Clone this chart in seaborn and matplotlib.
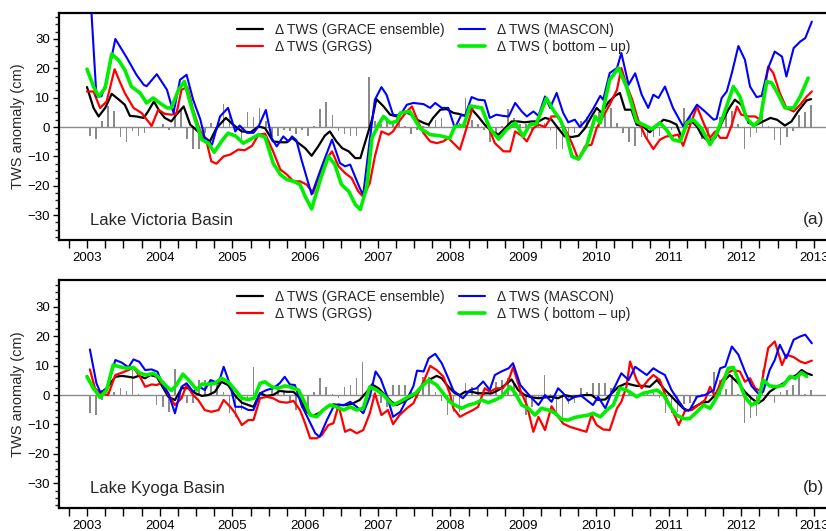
import numpy as np
import pandas as pd
import matplotlib
matplotlib.use("Agg")
import matplotlib.pyplot as plt
from matplotlib.ticker import MultipleLocator
import seaborn as sns

# ---------------- data ----------------
years = [2003, 2004, 2005, 2006, 2007, 2008, 2009, 2010, 2011, 2012, 2013]
series_labels = ["\u0394 TWS (GRACE ensemble)", "\u0394 TWS (GRGS)",
                 "\u0394 TWS (MASCON)", "\u0394 TWS ( bottom \u2013 up)"]
panel_names = ["Lake Victoria Basin", "Lake Kyoga Basin"]
panel_tags = ["(a)", "(b)"]

# Panel (a) Lake Victoria
a_black = [(2003.00,13.6),(2003.09,6.5),(2003.16,3.6),(2003.25,6.5),(2003.34,11.3),(2003.43,9.5),(2003.52,7.6),(2003.59,3.8),(2003.68,3.6),(2003.78,3.1),(2003.84,5.3),(2003.92,8.7),(2004.00,5.3),(2004.07,3.1),(2004.16,1.9),(2004.23,4.2),(2004.33,7.0),(2004.42,0.8),(2004.49,-0.7),(2004.60,-3.2),(2004.69,-4.9),(2004.78,-0.4),(2004.91,3.1),(2005.01,0.8),(2005.13,-1.5),(2005.25,-1.8),(2005.36,0.2),(2005.45,-0.4),(2005.56,-4.9),(2005.66,-5.2),(2005.75,-5.2),(2005.82,-3.7),(2005.91,-5.5),(2006.00,-7.2),(2006.09,-9.8),(2006.18,-6.6),(2006.27,-3.0),(2006.34,-1.5),(2006.43,-4.9),(2006.51,-7.2),(2006.60,-8.3),(2006.69,-10.6),(2006.76,-10.6),(2006.85,-3.2),(2006.92,2.5),(2006.98,9.5),(2007.08,7.0),(2007.17,4.2),(2007.26,3.6),(2007.35,5.3),(2007.44,4.5),(2007.54,2.5),(2007.63,1.4),(2007.70,0.8),(2007.76,3.1),(2007.86,5.9),(2007.95,6.1),(2008.04,4.8),(2008.11,4.5),(2008.20,3.8),(2008.29,6.1),(2008.38,3.6),(2008.47,0.8),(2008.57,-1.5),(2008.66,-2.6),(2008.75,-0.4),(2008.84,1.9),(2008.93,1.9),(2009.02,1.6),(2009.12,1.9),(2009.21,1.9),(2009.30,3.1),(2009.39,2.5),(2009.48,-0.4),(2009.57,-3.2),(2009.67,-3.4),(2009.76,-3.0),(2009.85,-0.4),(2009.94,3.6),(2010.01,6.5),(2010.08,4.8),(2010.17,8.4),(2010.26,10.6),(2010.33,11.6),(2010.40,5.9),(2010.49,5.9),(2010.56,0.8),(2010.65,0.2),(2010.74,-1.8),(2010.84,0.5),(2010.93,2.5),(2011.02,1.9),(2011.11,0.8),(2011.18,-3.7),(2011.25,0.8),(2011.32,1.9),(2011.39,0.2),(2011.46,-3.0),(2011.55,-4.9),(2011.64,-3.7),(2011.73,1.4),(2011.82,5.9),(2011.91,9.3),(2012.00,7.6),(2012.10,1.4),(2012.21,0.8),(2012.30,1.9),(2012.40,3.1),(2012.49,2.5),(2012.60,0.5),(2012.69,1.9),(2012.78,5.3),(2012.90,9.1),(2012.96,9.5)]
a_red = [(2003.00,12.1),(2003.09,12.1),(2003.18,6.5),(2003.27,8.7),(2003.38,19.7),(2003.45,15.5),(2003.52,11.6),(2003.64,6.5),(2003.75,4.8),(2003.89,0.4),(2003.98,5.9),(2004.07,4.5),(2004.16,4.2),(2004.23,4.5),(2004.30,12.7),(2004.38,13.6),(2004.46,5.9),(2004.55,-0.9),(2004.65,-5.5),(2004.71,-11.7),(2004.78,-12.5),(2004.88,-10.0),(2004.97,-9.4),(2005.08,-7.7),(2005.17,-7.9),(2005.27,-6.4),(2005.36,-2.6),(2005.45,-2.3),(2005.56,-8.3),(2005.66,-14.5),(2005.75,-16.2),(2005.84,-18.5),(2005.93,-18.5),(2006.02,-19.6),(2006.11,-22.5),(2006.21,-15.7),(2006.30,-10.6),(2006.37,-8.3),(2006.46,-13.4),(2006.55,-15.7),(2006.64,-17.4),(2006.73,-21.9),(2006.80,-23.8),(2006.89,-19.1),(2006.96,-10.0),(2007.05,-1.5),(2007.15,-2.6),(2007.21,-1.5),(2007.31,2.5),(2007.40,5.3),(2007.47,7.0),(2007.56,1.4),(2007.63,-2.1),(2007.72,-4.9),(2007.81,-5.5),(2007.90,-4.9),(2007.97,-3.7),(2008.04,-5.5),(2008.13,-7.7),(2008.22,-0.4),(2008.31,7.0),(2008.43,6.5),(2008.52,0.2),(2008.61,-5.5),(2008.73,-8.3),(2008.82,-8.3),(2008.89,-1.5),(2008.98,-3.0),(2009.05,-4.9),(2009.14,-0.4),(2009.21,0.8),(2009.30,0.0),(2009.39,3.6),(2009.48,3.6),(2009.57,-0.4),(2009.67,-5.5),(2009.76,-11.1),(2009.85,-6.6),(2009.94,-6.0),(2010.01,-0.4),(2010.10,3.6),(2010.19,7.6),(2010.29,12.7),(2010.35,20.1),(2010.42,14.4),(2010.50,9.3),(2010.58,2.5),(2010.68,-3.2),(2010.79,-7.5),(2010.88,-4.3),(2010.97,-3.2),(2011.06,-3.0),(2011.13,-2.6),(2011.20,-6.4),(2011.29,0.2),(2011.39,7.0),(2011.48,1.4),(2011.57,-3.7),(2011.64,-1.5),(2011.71,-3.7),(2011.80,-3.7),(2011.87,0.8),(2011.94,7.0),(2012.00,4.2),(2012.10,3.6),(2012.19,3.6),(2012.26,2.5),(2012.37,20.6),(2012.44,18.4),(2012.53,11.6),(2012.62,6.5),(2012.72,5.3),(2012.81,7.6),(2012.90,10.4),(2012.97,12.1)]
a_blue = [(2003.04,48.0),(2003.13,10.4),(2003.20,10.5),(2003.27,15.6),(2003.39,30.0),(2003.55,23.5),(2003.68,17.8),(2003.78,14.4),(2003.82,13.9),(2003.96,18.0),(2004.10,12.7),(2004.19,4.8),(2004.28,16.1),(2004.37,17.8),(2004.46,9.3),(2004.56,2.5),(2004.62,-3.8),(2004.72,-6.0),(2004.83,3.6),(2004.94,6.5),(2005.04,-1.5),(2005.10,0.5),(2005.20,-2.0),(2005.29,-2.0),(2005.36,0.2),(2005.46,5.8),(2005.54,-3.8),(2005.61,-6.6),(2005.70,-3.2),(2005.77,-4.9),(2005.82,-3.2),(2005.88,-4.5),(2005.95,-11.1),(2006.09,-23.0),(2006.23,-13.4),(2006.37,-4.3),(2006.48,-12.3),(2006.55,-13.4),(2006.62,-12.8),(2006.76,-21.3),(2006.80,-23.0),(2006.89,-4.3),(2006.96,9.3),(2007.05,13.6),(2007.12,11.0),(2007.21,4.2),(2007.30,3.8),(2007.40,7.6),(2007.49,8.2),(2007.63,7.8),(2007.72,6.5),(2007.79,8.2),(2007.88,6.5),(2007.97,6.5),(2008.06,-0.4),(2008.15,4.2),(2008.20,3.8),(2008.29,10.2),(2008.38,9.3),(2008.47,9.1),(2008.54,3.1),(2008.63,4.2),(2008.72,3.8),(2008.80,3.6),(2008.89,8.2),(2008.98,5.3),(2009.05,3.6),(2009.14,5.3),(2009.21,3.8),(2009.30,10.4),(2009.37,6.5),(2009.46,11.6),(2009.55,4.8),(2009.62,1.6),(2009.71,2.5),(2009.78,0.0),(2009.87,2.5),(2009.96,6.1),(2010.06,10.6),(2010.10,9.3),(2010.19,18.4),(2010.29,20.1),(2010.35,25.2),(2010.45,14.4),(2010.54,18.3),(2010.63,11.0),(2010.72,6.5),(2010.79,11.0),(2010.86,9.9),(2010.95,13.8),(2011.06,6.5),(2011.20,0.2),(2011.29,3.6),(2011.39,7.6),(2011.50,5.3),(2011.62,2.5),(2011.66,2.8),(2011.73,9.9),(2011.80,12.1),(2011.87,18.4),(2011.96,27.6),(2012.05,22.9),(2012.12,13.8),(2012.21,10.2),(2012.28,10.6),(2012.37,20.1),(2012.46,25.7),(2012.56,24.0),(2012.62,17.2),(2012.72,26.9),(2012.81,29.1),(2012.88,30.3),(2012.97,35.9)]
a_green = [(2003.00,19.7),(2003.09,13.8),(2003.16,10.4),(2003.25,13.3),(2003.34,24.9),(2003.43,22.9),(2003.52,19.5),(2003.61,13.8),(2003.73,11.6),(2003.82,8.2),(2003.91,9.9),(2004.00,8.2),(2004.10,6.5),(2004.16,6.5),(2004.26,12.7),(2004.34,15.5),(2004.42,8.2),(2004.51,0.8),(2004.58,-4.3),(2004.67,-5.5),(2004.75,-8.6),(2004.85,-4.9),(2004.94,-2.1),(2005.04,-3.0),(2005.15,-5.5),(2005.24,-4.3),(2005.36,-2.6),(2005.45,-3.5),(2005.56,-12.3),(2005.66,-16.2),(2005.75,-17.9),(2005.84,-18.5),(2005.93,-19.6),(2006.00,-23.6),(2006.09,-27.9),(2006.21,-17.9),(2006.32,-10.0),(2006.41,-12.8),(2006.50,-19.6),(2006.60,-21.9),(2006.69,-26.4),(2006.76,-28.1),(2006.85,-20.2),(2006.92,-3.7),(2007.01,0.8),(2007.08,3.6),(2007.17,1.4),(2007.26,1.9),(2007.31,4.8),(2007.44,5.3),(2007.58,-0.4),(2007.72,-2.6),(2007.86,-3.0),(2007.99,-3.8),(2008.06,0.2),(2008.18,0.4),(2008.27,7.2),(2008.43,6.5),(2008.54,-0.4),(2008.66,-4.1),(2008.77,-0.9),(2008.89,1.4),(2009.00,-3.2),(2009.09,0.8),(2009.18,1.1),(2009.32,9.8),(2009.41,5.9),(2009.51,2.5),(2009.60,-3.2),(2009.67,-10.0),(2009.76,-10.9),(2009.87,-6.6),(2009.99,3.6),(2010.06,1.4),(2010.19,16.1),(2010.31,20.1),(2010.42,13.8),(2010.56,1.9),(2010.70,0.2),(2010.77,-0.7),(2010.88,1.4),(2010.97,-0.9),(2011.06,-4.3),(2011.16,-4.9),(2011.25,1.4),(2011.34,2.5),(2011.45,-0.4),(2011.57,-6.0),(2011.66,-2.1),(2011.75,3.6),(2011.89,13.8),(2011.98,10.4),(2012.07,3.1),(2012.17,0.4),(2012.26,2.5),(2012.35,15.5),(2012.42,15.0),(2012.51,11.0),(2012.60,6.5),(2012.72,6.5),(2012.81,10.4),(2012.92,16.7)]
a_bars = [-3,-4,2,7,5.5,-3.5,-5,-1.5,-3,-2,0.5,0,
          1,-1,5,6,-4,-7.5,-7.5,-2,1.5,-1,8,5,
          -1,-4,5,3.5,6.5,2,-3.5,-3,-1,-1.5,-2.5,-1,
          -3,0.5,6,8.5,4,-1.5,-2.5,-3,-3,-0.5,17,2,
          1,3,2,1.5,0.5,-2.5,-1,0.5,1.5,2.5,3,-0.5,
          2,1.5,10,2.5,1,-1,-5,-2,0.5,6,3,1,
          1,-1,2,1.5,-1,-7.5,-7.5,-5,-2,2,3.5,1,
          5,5,6.5,1.5,-2,-5,-6.5,-3.5,-4,-3.5,-3,-1.5,
          -1,-0.5,6.5,4,1,-4,-3,-0.5,3.5,5,5.5,1,
          -7.5,-3.5,-2,9.5,0.5,-4.5,-6,-3.5,-1.5,4,5,7.5]

# Panel (b) Lake Kyoga
b_black = [(2003.00,6.5),(2003.09,1.9),(2003.18,0.6),(2003.27,2.3),(2003.39,6.2),(2003.48,6.5),(2003.57,6.2),(2003.64,5.9),(2003.71,6.5),(2003.80,5.7),(2003.87,6.8),(2003.96,6.2),(2004.05,2.3),(2004.12,-0.6),(2004.21,-1.7),(2004.30,2.3),(2004.39,2.3),(2004.49,0.6),(2004.58,-0.3),(2004.67,0.0),(2004.76,1.1),(2004.85,4.5),(2004.94,3.4),(2005.04,-0.3),(2005.13,-2.6),(2005.22,-3.4),(2005.29,-4.0),(2005.38,0.6),(2005.47,-0.3),(2005.56,0.0),(2005.65,1.4),(2005.75,1.1),(2005.84,1.1),(2005.93,-1.1),(2006.02,-5.7),(2006.11,-7.1),(2006.20,-6.0),(2006.30,-4.0),(2006.39,-3.2),(2006.48,-3.4),(2006.57,-3.4),(2006.66,-2.8),(2006.75,-1.7),(2006.85,1.1),(2006.92,3.6),(2007.01,2.3),(2007.10,0.0),(2007.19,-2.3),(2007.26,-3.4),(2007.35,-2.3),(2007.47,-0.6),(2007.56,1.1),(2007.62,4.0),(2007.70,5.1),(2007.81,6.5),(2007.88,5.7),(2007.97,2.8),(2008.06,0.6),(2008.13,0.0),(2008.20,1.1),(2008.29,1.1),(2008.38,0.6),(2008.47,0.6),(2008.57,0.6),(2008.66,1.7),(2008.75,3.4),(2008.84,5.3),(2008.93,1.7),(2009.02,0.0),(2009.12,-0.8),(2009.21,-1.1),(2009.30,-0.8),(2009.39,-0.6),(2009.48,-1.1),(2009.57,0.0),(2009.67,-0.6),(2009.76,-0.3),(2009.85,0.0),(2009.94,0.0),(2010.03,-1.7),(2010.13,-1.5),(2010.22,0.6),(2010.31,2.8),(2010.42,4.0),(2010.49,3.5),(2010.56,3.1),(2010.65,3.1),(2010.74,2.8),(2010.84,5.1),(2010.93,2.3),(2011.02,0.0),(2011.11,-2.3),(2011.20,-4.5),(2011.27,-5.3),(2011.36,-4.0),(2011.46,-2.6),(2011.55,-2.3),(2011.64,0.0),(2011.73,4.0),(2011.84,6.8),(2011.96,4.0),(2012.05,1.1),(2012.14,-1.1),(2012.23,-2.8),(2012.30,-1.7),(2012.39,1.1),(2012.49,2.8),(2012.58,4.0),(2012.67,5.7),(2012.76,6.8),(2012.83,8.5),(2012.90,7.4),(2012.97,6.8)]
b_red = [(2003.04,8.7),(2003.11,2.3),(2003.18,0.6),(2003.29,0.0),(2003.39,6.8),(2003.48,7.6),(2003.57,8.5),(2003.64,9.3),(2003.73,6.2),(2003.80,2.8),(2003.89,3.6),(2003.96,3.4),(2004.05,4.5),(2004.12,0.0),(2004.21,-3.4),(2004.30,-1.1),(2004.37,3.4),(2004.46,0.0),(2004.53,-1.7),(2004.62,-5.1),(2004.71,-5.7),(2004.81,-5.1),(2004.88,-1.7),(2004.97,-4.0),(2005.04,-6.2),(2005.13,-10.2),(2005.22,-8.5),(2005.29,-8.5),(2005.38,-1.1),(2005.47,-0.6),(2005.56,-1.1),(2005.65,-2.3),(2005.75,-2.6),(2005.84,-2.0),(2005.93,-5.1),(2006.00,-9.6),(2006.07,-14.7),(2006.16,-14.7),(2006.23,-13.6),(2006.32,-10.2),(2006.39,-9.6),(2006.46,-3.4),(2006.55,-12.5),(2006.62,-11.7),(2006.71,-13.0),(2006.80,-11.9),(2006.89,-6.2),(2006.96,0.6),(2007.05,-6.8),(2007.14,-5.1),(2007.21,-9.9),(2007.30,-6.8),(2007.40,-4.5),(2007.49,-2.8),(2007.56,1.1),(2007.63,4.5),(2007.72,9.9),(2007.81,8.5),(2007.90,6.3),(2007.99,0.6),(2008.04,-4.5),(2008.13,-7.4),(2008.22,-6.2),(2008.31,-5.1),(2008.38,-4.0),(2008.47,2.3),(2008.54,1.1),(2008.63,2.3),(2008.72,2.3),(2008.80,5.1),(2008.86,9.4),(2008.96,1.7),(2009.05,-3.4),(2009.14,-12.5),(2009.21,-7.4),(2009.30,-11.9),(2009.39,-3.8),(2009.48,-7.4),(2009.55,-9.7),(2009.64,-10.8),(2009.76,-11.7),(2009.87,-12.5),(2009.94,-6.8),(2010.01,-10.2),(2010.10,-11.7),(2010.19,-11.9),(2010.29,-4.5),(2010.35,-2.3),(2010.42,2.8),(2010.47,11.4),(2010.56,5.1),(2010.63,2.3),(2010.72,5.1),(2010.79,6.8),(2010.88,5.1),(2010.97,-1.1),(2011.06,-5.7),(2011.14,-10.2),(2011.23,-5.1),(2011.32,-5.1),(2011.41,-3.4),(2011.50,-1.7),(2011.57,2.8),(2011.64,-0.6),(2011.71,4.0),(2011.80,7.4),(2011.89,8.5),(2011.98,8.0),(2012.05,4.5),(2012.12,5.7),(2012.19,2.3),(2012.26,1.4),(2012.37,16.0),(2012.46,18.2),(2012.56,10.2),(2012.62,13.7),(2012.72,12.9),(2012.81,11.4),(2012.88,10.8),(2012.97,11.7)]
b_blue = [(2003.04,15.5),(2003.13,4.0),(2003.18,1.1),(2003.27,1.7),(2003.39,11.9),(2003.48,11.0),(2003.57,9.4),(2003.64,12.1),(2003.72,11.3),(2003.80,8.5),(2003.89,8.7),(2003.97,7.9),(2004.05,2.8),(2004.12,0.6),(2004.21,-6.2),(2004.30,2.8),(2004.37,4.0),(2004.46,1.1),(2004.55,2.8),(2004.62,1.7),(2004.70,5.1),(2004.81,4.0),(2004.88,9.6),(2004.97,3.4),(2005.04,-4.0),(2005.13,-4.0),(2005.22,-5.1),(2005.29,-5.1),(2005.38,0.6),(2005.47,1.7),(2005.56,2.3),(2005.65,4.0),(2005.72,6.2),(2005.79,3.6),(2005.86,3.4),(2005.95,-3.4),(2006.04,-7.9),(2006.14,-13.0),(2006.20,-14.2),(2006.30,-8.5),(2006.39,-4.0),(2006.46,-3.2),(2006.53,-3.5),(2006.62,-2.3),(2006.71,-4.0),(2006.80,-6.2),(2006.89,-0.6),(2006.97,8.0),(2007.04,5.5),(2007.13,-0.5),(2007.21,-7.4),(2007.31,-5.7),(2007.40,-1.4),(2007.49,3.0),(2007.54,8.3),(2007.63,8.0),(2007.70,12.5),(2007.79,14.0),(2007.88,10.8),(2007.97,5.7),(2008.04,1.5),(2008.17,-1.1),(2008.27,1.7),(2008.36,2.3),(2008.45,4.6),(2008.54,1.7),(2008.61,6.8),(2008.70,8.0),(2008.80,9.1),(2008.86,10.8),(2008.96,3.4),(2009.02,1.7),(2009.12,-1.1),(2009.21,-3.4),(2009.30,0.0),(2009.39,-2.3),(2009.48,2.3),(2009.55,0.6),(2009.62,-1.9),(2009.71,-0.6),(2009.80,-0.3),(2009.96,-3.4),(2010.03,-0.6),(2010.13,-4.5),(2010.22,1.1),(2010.26,2.8),(2010.35,7.4),(2010.45,5.1),(2010.54,9.6),(2010.63,8.0),(2010.70,6.8),(2010.79,9.1),(2010.86,8.0),(2010.95,6.8),(2011.04,1.7),(2011.13,-1.7),(2011.23,-5.3),(2011.29,-5.1),(2011.39,-0.6),(2011.50,0.0),(2011.62,1.7),(2011.71,9.1),(2011.78,9.7),(2011.87,16.5),(2011.96,13.7),(2012.05,8.0),(2012.14,3.1),(2012.23,0.6),(2012.30,1.1),(2012.39,8.5),(2012.46,11.9),(2012.53,17.1),(2012.62,12.5),(2012.72,18.8),(2012.81,19.9),(2012.88,20.5),(2012.97,17.6)]
b_green = [(2003.00,6.2),(2003.09,2.3),(2003.18,-0.8),(2003.27,1.7),(2003.36,10.2),(2003.45,9.6),(2003.55,9.1),(2003.64,9.4),(2003.73,7.4),(2003.82,6.8),(2003.91,7.4),(2003.98,6.2),(2004.05,4.0),(2004.16,1.5),(2004.23,3.4),(2004.32,7.1),(2004.42,4.5),(2004.51,1.7),(2004.58,3.7),(2004.67,3.7),(2004.76,4.0),(2004.85,5.7),(2004.94,4.5),(2005.04,1.7),(2005.13,-1.1),(2005.22,-1.5),(2005.30,-1.1),(2005.38,4.0),(2005.45,4.5),(2005.54,2.8),(2005.63,2.3),(2005.72,3.1),(2005.79,2.8),(2005.91,1.7),(2006.00,-2.8),(2006.07,-6.8),(2006.16,-7.4),(2006.25,-5.1),(2006.34,-3.4),(2006.43,-4.0),(2006.53,-5.1),(2006.62,-4.0),(2006.71,-5.1),(2006.80,-4.5),(2006.89,2.8),(2006.98,1.7),(2007.08,0.0),(2007.14,-1.7),(2007.21,-3.4),(2007.30,-2.3),(2007.42,-0.6),(2007.52,0.6),(2007.58,2.3),(2007.70,5.1),(2007.81,3.4),(2007.90,0.6),(2007.99,-2.3),(2008.06,-3.4),(2008.15,-4.5),(2008.25,-3.4),(2008.34,-2.8),(2008.43,-1.7),(2008.52,-2.6),(2008.61,-1.7),(2008.70,-0.6),(2008.82,2.8),(2008.89,0.6),(2008.98,-3.4),(2009.07,-4.5),(2009.16,-6.8),(2009.25,-4.5),(2009.35,-5.1),(2009.44,-6.2),(2009.53,-8.3),(2009.62,-8.5),(2009.71,-7.6),(2009.80,-7.2),(2009.90,-6.8),(2009.96,-6.2),(2010.06,-7.4),(2010.15,-5.1),(2010.24,-3.4),(2010.33,2.3),(2010.42,1.7),(2010.49,0.6),(2010.56,-0.6),(2010.65,0.6),(2010.74,1.1),(2010.84,1.7),(2010.93,0.0),(2011.02,-3.8),(2011.11,-6.8),(2011.20,-8.0),(2011.29,-8.0),(2011.39,-5.7),(2011.48,-3.4),(2011.57,-4.5),(2011.64,-1.7),(2011.73,2.8),(2011.82,9.1),(2011.89,9.4),(2011.96,5.1),(2012.05,-0.6),(2012.14,-3.4),(2012.23,-2.3),(2012.30,5.1),(2012.39,3.1),(2012.49,2.8),(2012.58,3.4),(2012.67,6.3),(2012.74,5.7),(2012.83,7.6),(2012.90,6.3)]
b_bars = [-6,-6.8,-1.7,1,1,2.3,1.5,8.5,0.5,0,-0.3,-3.4,
          -4,-5.7,8.7,-1,-2.8,-2.8,5.1,5.1,5.1,5.1,1,-6.2,
          -7.4,-5.1,-1,9.6,0.5,-1,3.4,3.4,1.5,-2.8,-5.1,-4.5,
          -4,1.1,5.7,2.8,0.5,-1,2.8,3.4,5.7,11.3,1.5,-0.5,
          -2.8,-4,3.4,3.4,3.4,1,-1,6.2,6.2,1,-1.9,-6.8,
          -5.7,-5.7,4,2.8,2.3,0.5,2.3,4.5,5.1,5.7,4,2.3,
          -6.8,-4,-0.5,6.8,0.5,-5.7,-9,-3,-2.8,2.3,1,4,
          4,4,2.3,1,0.5,0.5,-0.5,0.5,1,1.7,-1.1,-6.2,
          -6.2,-5.7,-3,-2.8,-1,0.5,1,7.9,5,2,6.8,0.5,
          -9.6,-7.9,-7.1,8.5,1,-2.8,1.1,1.7,3.4,6.5,0.5,1.7]

# ---------------- styling ----------------
sns.set_theme(style="ticks")
plt.rcParams["font.family"] = ["Liberation Sans", "DejaVu Sans"]
plt.rcParams["axes.unicode_minus"] = True

line_colors = ["#000000", "#ff0000", "#0000ff", "#00ee00"]
line_widths = [1.6, 1.6, 1.5, 2.6]

fig = plt.figure(figsize=(8.26, 5.31), dpi=100)
ax_a = fig.add_axes([59/826, 1-240/531, 771/826, 227/531])
ax_b = fig.add_axes([59/826, 1-508/531, 771/826, 228/531])

month_t = [y + (m + 0.5) / 12 for y in range(2003, 2013) for m in range(12)]

panels = [
    (ax_a, [a_black, a_red, a_blue, a_green], a_bars, (-38.5, 38.85)),
    (ax_b, [b_black, b_red, b_blue, b_green], b_bars, (-38.4, 39.1)),
]

for k, (ax, series, bars, ylim) in enumerate(panels):
    ax.bar(month_t, bars, width=0.022, color="#8a8a8a", linewidth=0, zorder=1)
    ax.axhline(0, color="#8a8a8a", lw=1.0, zorder=1.5)
    for s, lab, col, lw in zip(series, series_labels, line_colors, line_widths):
        df = pd.DataFrame(s, columns=["t", "v"])
        sns.lineplot(data=df, x="t", y="v", ax=ax, color=col, linewidth=lw,
                     label=lab, sort=False, estimator=None, zorder=3)
    ax.set_xlim(2002.615, 2013.22)
    ax.set_ylim(*ylim)
    ax.set_xticks(years)
    ax.set_xticklabels([str(y) for y in years])
    ax.xaxis.set_minor_locator(MultipleLocator(0.25))
    ax.set_yticks([-30, -20, -10, 0, 10, 20, 30])
    ax.yaxis.set_minor_locator(MultipleLocator(2.5))
    ax.tick_params(axis="x", which="both", direction="out", length=5.5, width=1.0,
                   labelsize=9.5, pad=3, colors="black")
    ax.tick_params(axis="y", which="major", direction="out", length=4, width=1.0,
                   labelsize=9.5, pad=2.5, colors="black")
    ax.tick_params(axis="y", which="minor", direction="out", length=3, width=1.0)
    for sp in ["top", "left", "bottom", "right"]:
        ax.spines[sp].set_linewidth(1.6)
        ax.spines[sp].set_color("black")
    ax.set_xlabel("")
    ax.set_ylabel("TWS anomaly (cm)", fontsize=10.5)
    ax.yaxis.set_label_coords(-0.044, 0.5)
    ax.text(0.040, 0.085, panel_names[k], transform=ax.transAxes, fontsize=12,
            ha="left", va="center")
    ax.text((824 - 59) / 771, 0.09, panel_tags[k], transform=ax.transAxes,
            fontsize=12.5, ha="right", va="center")
    ax.legend(loc="upper left",
              bbox_to_anchor=((237 - 59) / 771, 1 - 10 / 227),
              ncol=2, frameon=False, fontsize=10, handlelength=1.9,
              handletextpad=0.85, columnspacing=1.0, labelspacing=0.2,
              borderpad=0, borderaxespad=0)

fig.savefig("out.png", dpi=100)
